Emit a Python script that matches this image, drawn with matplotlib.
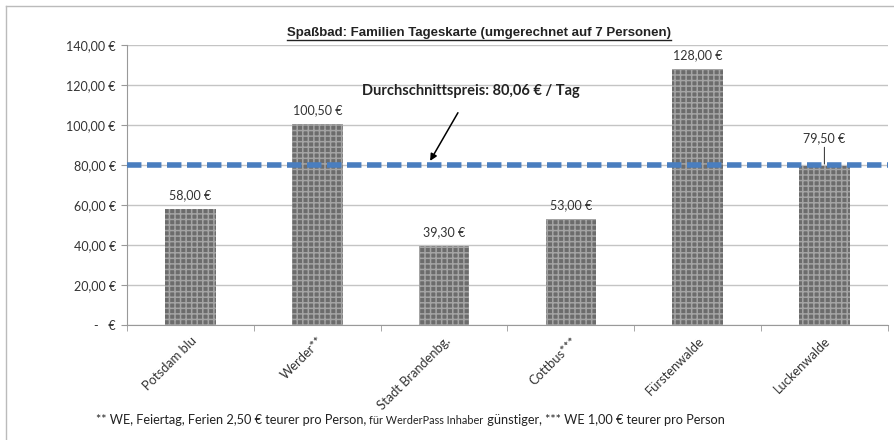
import matplotlib.pyplot as plt
import matplotlib.transforms as mtransforms
import numpy as np
from matplotlib.lines import Line2D

# Daten
orte = ['Potsdam blu', 'Werder**', 'Stadt Brandenbg.', 'Cottbus***', 'Fürstenwalde', 'Luckenwalde']
preise = [58.00, 100.50, 39.30, 53.00, 128.00, 79.50]
durchschnitt = 80.06
y_ticks = [0, 20, 40, 60, 80, 100, 120, 140]

plt.rcParams['font.family'] = ['Lato', 'DejaVu Sans']
plt.rcParams['hatch.linewidth'] = 1.1

fig = plt.figure(figsize=(8.95, 4.4), dpi=100)
ax = fig.add_axes([0.142, 0.261, 0.85, 0.637])

def euro(v):
    if v == 0:
        return '-   €'
    return f'{v:,.2f}'.replace(',', 'X').replace('.', ',').replace('X', '.') + ' €'

x = np.arange(len(orte))
bars = ax.bar(x, preise, 0.4, color='#6c6c6c', edgecolor='#a4a4a4', linewidth=0,
              hatch='+++', zorder=2)

# Werte über den Balken
for i, b in enumerate(bars):
    h = b.get_height()
    if i == len(orte) - 1:
        ax.annotate(euro(h), xy=(b.get_x() + b.get_width() / 2, h + 1), xytext=(0, 14),
                    textcoords='offset points', ha='center', va='bottom', fontsize=9,
                    color='#333333', arrowprops=dict(arrowstyle='-', color='#444444', lw=0.8,
                                                     shrinkA=0, shrinkB=0))
    else:
        ax.text(b.get_x() + b.get_width() / 2, h + 4, euro(h), ha='center', va='bottom',
                fontsize=9, color='#333333')

# Durchschnittslinie
ax.axhline(durchschnitt, color='#4a7ebf', lw=4, dashes=(2.6, 1.0), zorder=3)
ax.annotate('Durchschnittspreis: 80,06 € / Tag', xy=(1.89, durchschnitt + 2),
            xytext=(1.35, 117), fontsize=10.5, fontweight='bold', color='#222222',
            va='center', ha='left',
            arrowprops=dict(arrowstyle='-|>', color='black', lw=1.1, shrinkA=10, shrinkB=0,
                            mutation_scale=10))

ax.set_xlim(-0.5, len(orte) - 0.5)
ax.set_ylim(0, 140)
ax.set_yticks(y_ticks)
ax.set_yticklabels([euro(v) for v in y_ticks], fontsize=9, color='#333333')
ax.yaxis.grid(True, color='#c4c4c4', lw=1)
ax.set_axisbelow(True)
ax.tick_params(axis='y', length=4, color='#999999', pad=4)

ax.set_xticks(x)
ax.set_xticklabels(orte, rotation=45, ha='right', rotation_mode='anchor', fontsize=9.3,
                   color='#333333')
verschiebung = mtransforms.ScaledTranslation(5 / 100, 0, fig.dpi_scale_trans)
for lbl in ax.get_xticklabels():
    lbl.set_transform(lbl.get_transform() + verschiebung)
ax.set_xticks(np.arange(-0.5, len(orte)), minor=True)
ax.tick_params(axis='x', which='major', length=0, pad=7)
ax.tick_params(axis='x', which='minor', length=4, color='#999999')

for s in ['top', 'right']:
    ax.spines[s].set_visible(False)
for s in ['left', 'bottom']:
    ax.spines[s].set_color('#999999')

# Titel mit Unterstreichung
titel = fig.text(0.535, 0.912, 'Spaßbad: Familien Tageskarte (umgerechnet auf 7 Personen)',
                 ha='center', va='bottom', fontsize=9.5, fontweight='bold',
                 family=['Liberation Sans', 'DejaVu Sans'], color='#222222')

# Fußnote (mit kleinerem Mittelteil)
t1 = fig.text(0.107, 0.036, '** WE, Feiertag, Ferien 2,50 € teurer pro Person, ',
              fontsize=9.2, color='#222222', va='baseline')
t2 = fig.text(0, 0, 'für WerderPass Inhaber', fontsize=7.8, color='#222222', va='baseline')
t3 = fig.text(0, 0, ' günstiger, *** WE 1,00 € teurer pro Person', fontsize=9.2,
              color='#222222', va='baseline')

# Rahmen links/oben
fig.add_artist(Line2D([0.007, 0.007], [0, 0.986], color='#bbbbbb', lw=1))
fig.add_artist(Line2D([0.007, 1], [0.986, 0.986], color='#bbbbbb', lw=1))

fig.canvas.draw()
r = fig.canvas.get_renderer()
bb = t1.get_window_extent(r)
y0 = t1.get_position()[1]
t2.set_position((bb.x1 / fig.bbox.width, y0))
bb2 = t2.get_window_extent(r)
t3.set_position((bb2.x1 / fig.bbox.width, y0))
tb = titel.get_window_extent(r)
fig.add_artist(Line2D([tb.x0 / fig.bbox.width, tb.x1 / fig.bbox.width],
                      [(tb.y0 - 1) / fig.bbox.height] * 2, color='#222222', lw=1))

fig.savefig('out.png', dpi=100)
